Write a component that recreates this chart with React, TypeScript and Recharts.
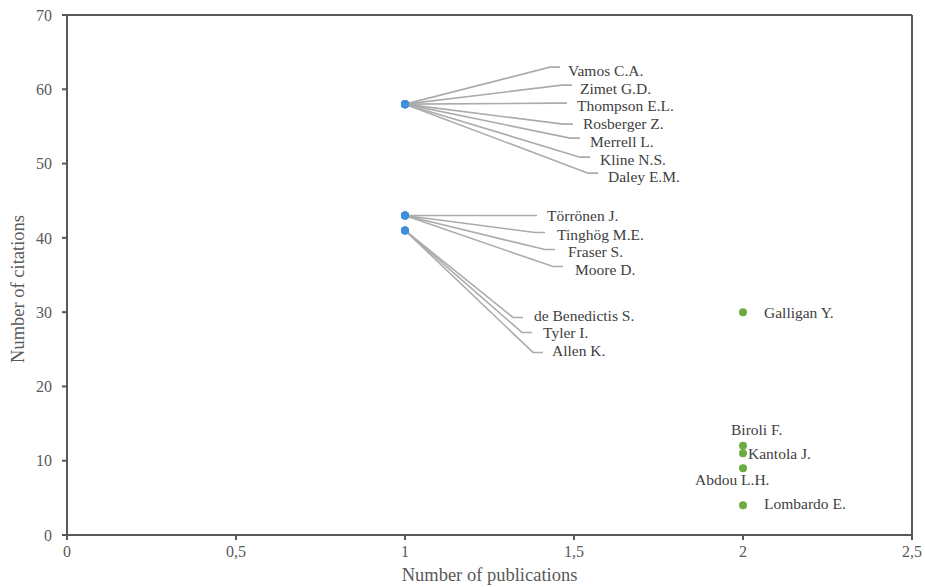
import {
  ReferenceLine,
  Scatter,
  ScatterChart,
  XAxis,
  YAxis,
} from "recharts";

// authors with one publication (blue) and two publications (green)
const blueAuthors = [
  "Vamos C.A.",
  "Zimet G.D.",
  "Thompson E.L.",
  "Rosberger Z.",
  "Merrell L.",
  "Kline N.S.",
  "Daley E.M.",
  "Törrönen J.",
  "Tinghög M.E.",
  "Fraser S.",
  "Moore D.",
  "de Benedictis S.",
  "Tyler I.",
  "Allen K.",
];
const bluePublications = [1, 1, 1, 1, 1, 1, 1, 1, 1, 1, 1, 1, 1, 1];
const blueCitations = [58, 58, 58, 58, 58, 58, 58, 43, 43, 43, 43, 41, 41, 41];

const greenAuthors = ["Galligan Y.", "Biroli F.", "Kantola J.", "Abdou L.H.", "Lombardo E."];
const greenPublications = [2, 2, 2, 2, 2];
const greenCitations = [30, 12, 11, 9, 4];

const xTicks = [0, 0.5, 1, 1.5, 2, 2.5];
const yTicks = [0, 10, 20, 30, 40, 50, 60, 70];

const blueData = blueAuthors.map((name, i) => ({
  name,
  pubs: bluePublications[i],
  cites: blueCitations[i],
}));
const greenData = greenAuthors.map((name, i) => ({
  name,
  pubs: greenPublications[i],
  cites: greenCitations[i],
}));

// label placement in pixels relative to the point: elbow dx, elbow dy, text dx, text dy
const leaderLayout: Record<string, [number, number, number, number]> = {
  "Vamos C.A.": [145, -37, 163, -34],
  "Zimet G.D.": [157, -19, 175, -16],
  "Thompson E.L.": [152, -1, 172, 1],
  "Rosberger Z.": [158, 20, 178, 19],
  "Merrell L.": [165, 34, 185, 37],
  "Kline N.S.": [175, 53, 195, 55],
  "Daley E.M.": [183, 69, 203, 72],
  "Törrönen J.": [122, 0, 142, 0],
  "Tinghög M.E.": [130, 17, 152, 19],
  "Fraser S.": [140, 34, 163, 36],
  "Moore D.": [148, 51, 170, 54],
  "de Benedictis S.": [108, 87, 129, 85],
  "Tyler I.": [117, 102, 138, 102],
  "Allen K.": [128, 122, 147, 120],
};
const greenLayout: Record<string, [number, number]> = {
  "Galligan Y.": [21, 0],
  "Biroli F.": [-12, -16],
  "Kantola J.": [5, 0],
  "Abdou L.H.": [-48, 11],
  "Lombardo E.": [21, -2],
};

const FONT = '"Liberation Serif", "Times New Roman", serif';
const TEXT = "#404040";
const AXIS = "#595959";
const BLUE = "#3f8fdd";
const GREEN = "#6cab3f";
const LABEL_SIZE = 15.5;

const Leader = (props: any) => {
  const { cx, cy, payload } = props;
  const [ex, ey, tx, ty] = leaderLayout[payload.name];
  return (
    <g>
      <polyline
        points={`${cx},${cy} ${cx + ex},${cy + ey} ${cx + ex + 10},${cy + ey}`}
        fill="none"
        stroke="#ababab"
        strokeWidth={1.6}
      />
      <text
        x={cx + tx}
        y={cy + ty}
        dominantBaseline="central"
        fontFamily={FONT}
        fontSize={LABEL_SIZE}
        fill={TEXT}
      >
        {payload.name}
      </text>
    </g>
  );
};

const Dot = (color: string) => (props: any) => (
  <circle cx={props.cx} cy={props.cy} r={4} fill={color} />
);

const GreenDot = (props: any) => {
  const { cx, cy, payload } = props;
  const [dx, dy] = greenLayout[payload.name];
  return (
    <g>
      <circle cx={cx} cy={cy} r={4} fill={GREEN} />
      <text
        x={cx + dx}
        y={cy + dy}
        dominantBaseline="central"
        fontFamily={FONT}
        fontSize={LABEL_SIZE}
        fill={TEXT}
      >
        {payload.name}
      </text>
    </g>
  );
};

const YTitle = (props: any) => {
  const vb = props.viewBox;
  const x = 18;
  const y = vb.y + vb.height / 2 + 14;
  return (
    <text
      x={x}
      y={y}
      transform={`rotate(-90, ${x}, ${y})`}
      textAnchor="middle"
      dominantBaseline="central"
      fontFamily={FONT}
      fontSize={18.5}
      fill={AXIS}
    >
      Number of citations
    </text>
  );
};

export default function App() {
  return (
    <div style={{ position: "absolute", left: 0, top: 0, background: "#fff" }}>
      <ScatterChart
        width={925}
        height={587}
        margin={{ top: 15, right: 13, left: 0, bottom: 0 }}
        style={{ fontFamily: FONT }}
      >
        <XAxis
          type="number"
          dataKey="pubs"
          domain={[0, 2.5]}
          ticks={xTicks}
          tickFormatter={(v: number) => String(v).replace(".", ",")}
          height={52}
          stroke={AXIS}
          strokeWidth={2}
          tickSize={5}
          tickMargin={6}
          tick={{ fill: AXIS, fontSize: 16, fontFamily: FONT }}
          label={{
            value: "Number of publications",
            position: "insideBottom",
            offset: 6,
            fill: AXIS,
            fontSize: 18.5,
            fontFamily: FONT,
          }}
        />
        <YAxis
          type="number"
          dataKey="cites"
          domain={[0, 70]}
          ticks={yTicks}
          width={67}
          stroke={AXIS}
          strokeWidth={2}
          tickSize={5}
          tickMargin={10}
          tick={{ fill: AXIS, fontSize: 16, fontFamily: FONT }}
          label={{ content: YTitle }}
        />
        <ReferenceLine y={70} stroke={AXIS} strokeWidth={2} />
        <ReferenceLine x={2.5} stroke={AXIS} strokeWidth={2} />
        <Scatter data={blueData} shape={Leader} isAnimationActive={false} />
        <Scatter data={blueData} shape={Dot(BLUE)} isAnimationActive={false} />
        <Scatter data={greenData} shape={GreenDot} isAnimationActive={false} />
      </ScatterChart>
    </div>
  );
}
